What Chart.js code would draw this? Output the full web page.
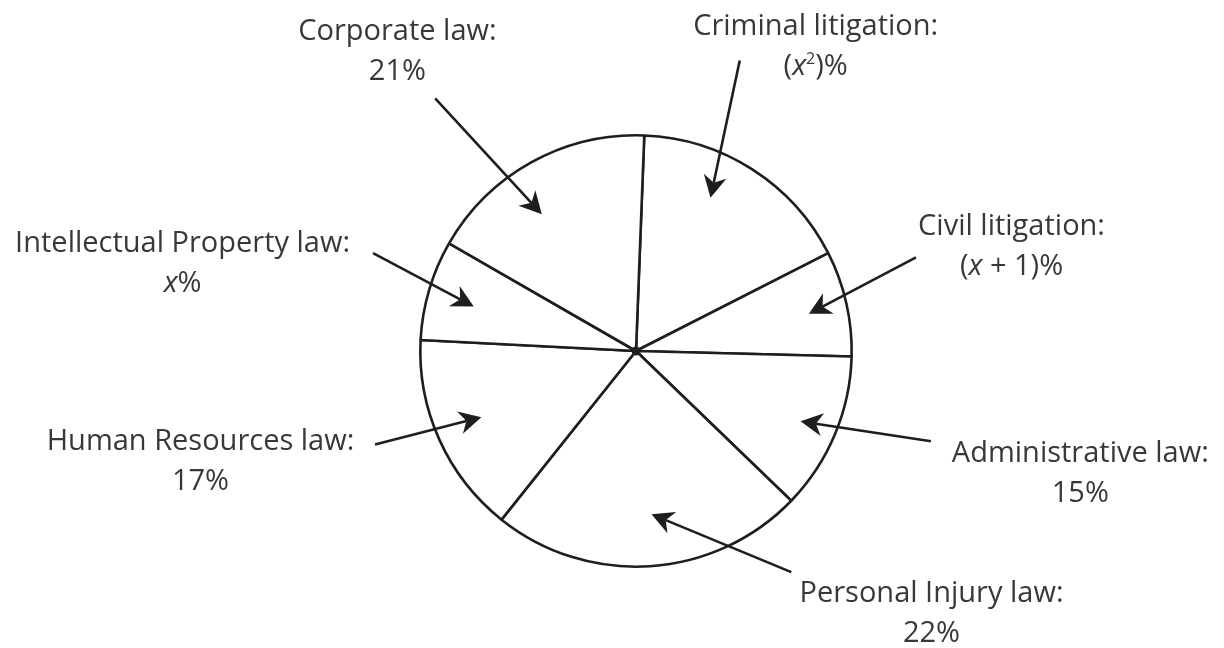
<!DOCTYPE html>
<html lang="en">
<head>
<meta charset="UTF-8">
<title>Law practice areas</title>
<script src="https://cdn.jsdelivr.net/npm/chart.js"></script>
<style>
  body { margin: 0; background: #fff; }
</style>
</head>
<body>
<canvas id="lawPie" width="1224" height="648"></canvas>
<script>
// Slices in drawing order, clockwise from the top
const areas = ['Criminal litigation:', 'Civil litigation:', 'Administrative law:', 'Personal Injury law:',
               'Human Resources law:', 'Intellectual Property law:', 'Corporate law:'];
// Value printed under each name (x is the unknown)
const valueLabels = ['(x²)%', '(x + 1)%', '15%', '22%', '17%', 'x%', '21%'];
// Share of the circle each slice takes in the drawing (percent, not to scale with the labels)
const drawnShare = [16.9, 7.9, 11.8, 23.5, 15.1, 7.5, 17.3];

// Callout layout, in pie radii from the centre
// tip: [fraction across the slice, distance from centre]
const tipAt = [[0.39, 0.79], [0.52, 0.82], [0.51, 0.83], [0.48, 0.76], [0.52, 0.78], [0.46, 0.78], [0.41, 0.77]];
const tailAt = [[0.481, -1.347], [1.298, -0.434], [1.367, 0.418], [0.720, 1.025], [-1.210, 0.434], [-1.219, -0.454], [-0.931, -1.171]];
const textAt = [[0.833, -1.463], [1.741, -0.537], [2.060, 0.514], [1.370, 1.162], [-2.019, 0.458], [-2.102, -0.458], [-1.106, -1.440]];

const INK = '#1e1e1e';
const TEXT = '#383838';
const FONT = '"Open Sans", sans-serif';
const FONT_SIZE = 29;
const LINE_GAP = 40;

// draw a value label: 'x' in italics, '²' as a raised small 2
function drawValue(ctx, text, cx, y) {
  const parts = [];
  for (const ch of text) {
    let style = 'normal';
    if (ch === 'x') style = 'italic';
    if (ch === '²') style = 'sup';
    const last = parts[parts.length - 1];
    if (last && last.style === style) last.text += ch;
    else parts.push({ text: ch, style: style });
  }
  const fontFor = s => s === 'italic' ? `italic ${FONT_SIZE}px ${FONT}`
                    : s === 'sup' ? `${Math.round(FONT_SIZE * 0.55)}px ${FONT}`
                    : `${FONT_SIZE}px ${FONT}`;
  let total = 0;
  parts.forEach(p => {
    if (p.style === 'sup') p.text = '2';
    ctx.font = fontFor(p.style);
    p.w = ctx.measureText(p.text).width;
    total += p.w;
  });
  let x = cx - total / 2;
  ctx.textAlign = 'left';
  parts.forEach(p => {
    ctx.font = fontFor(p.style);
    ctx.fillText(p.text, x, p.style === 'sup' ? y - FONT_SIZE * 0.38 : y);
    x += p.w;
  });
}

function drawArrow(ctx, tx, ty, px, py) {
  const len = Math.hypot(px - tx, py - ty);
  const ux = (px - tx) / len, uy = (py - ty) / len;
  const nx = -uy, ny = ux;
  const L = 22, W = 11.5;
  const bx = px - ux * L, by = py - uy * L;
  const mx = px - ux * L * 0.7, my = py - uy * L * 0.7;
  ctx.beginPath();
  ctx.moveTo(tx, ty);
  ctx.lineTo(mx, my);
  ctx.stroke();
  ctx.beginPath();
  ctx.moveTo(px, py);
  ctx.lineTo(bx + nx * W, by + ny * W);
  ctx.lineTo(mx, my);
  ctx.lineTo(bx - nx * W, by - ny * W);
  ctx.closePath();
  ctx.fill();
}

const callouts = {
  id: 'callouts',
  afterDraw(chart) {
    const ctx = chart.ctx;
    const meta = chart.getDatasetMeta(0);
    ctx.save();
    meta.data.forEach((arc, i) => {
      const { x, y, startAngle, endAngle, outerRadius } = arc.getProps(['x', 'y', 'startAngle', 'endAngle', 'outerRadius'], true);
      const R = outerRadius;
      const a = startAngle + tipAt[i][0] * (endAngle - startAngle);
      const px = x + Math.cos(a) * tipAt[i][1] * R;
      const py = y + Math.sin(a) * tipAt[i][1] * R;
      ctx.strokeStyle = INK;
      ctx.fillStyle = INK;
      ctx.lineWidth = 2.6;
      drawArrow(ctx, x + tailAt[i][0] * R, y + tailAt[i][1] * R, px, py);

      const cx = x + textAt[i][0] * R;
      const cy = y + textAt[i][1] * R;
      ctx.fillStyle = TEXT;
      ctx.font = `${FONT_SIZE}px ${FONT}`;
      ctx.textAlign = 'center';
      ctx.textBaseline = 'alphabetic';
      ctx.fillText(areas[i], cx, cy);
      drawValue(ctx, valueLabels[i], cx, cy + LINE_GAP);
    });
    // centre dot
    const c = meta.data[0];
    ctx.fillStyle = INK;
    ctx.beginPath();
    ctx.arc(c.x, c.y, 4.5, 0, Math.PI * 2);
    ctx.fill();
    ctx.restore();
  }
};

const ctx = document.getElementById('lawPie').getContext('2d');
const chart = new Chart(ctx, {
  type: 'pie',
  data: {
    labels: areas,
    datasets: [{
      data: drawnShare,
      backgroundColor: '#ffffff',
      borderColor: INK,
      borderWidth: 2.6,
    }],
  },
  options: {
    responsive: false,
    animation: false,
    events: [],
    rotation: 2.2,
    layout: { padding: { left: 419, right: 371, top: 134, bottom: 80 } },
    plugins: {
      legend: { display: false },
      tooltip: { enabled: false },
    },
  },
  plugins: [callouts],
});
</script>
</body>
</html>
